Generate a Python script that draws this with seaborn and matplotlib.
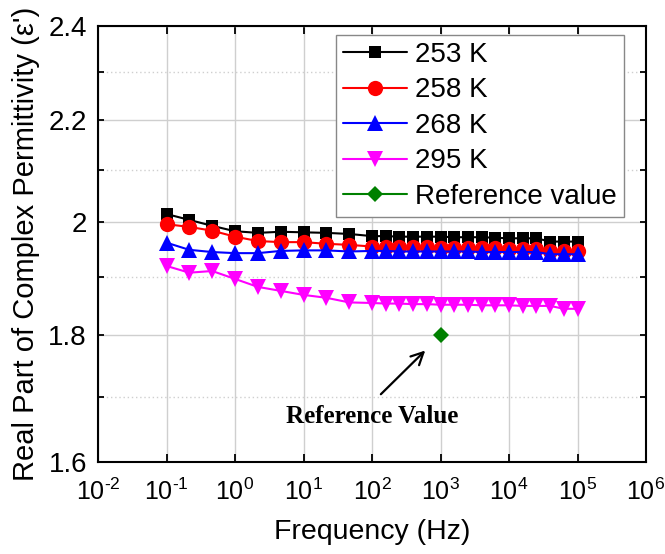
import numpy as np
import pandas as pd
import matplotlib
matplotlib.use("Agg")
import matplotlib.pyplot as plt
import matplotlib.ticker as mticker
import seaborn as sns

# ---------------- data ----------------
freq = [0.1, 0.215, 0.464, 1, 2.15, 4.64, 10, 21.5, 46.4,
        100, 158, 251, 398, 631, 1000, 1585, 2512, 3981, 6310,
        1e4, 1.585e4, 2.512e4, 3.981e4, 6.31e4, 1e5]
eps_253 = [2.015, 2.004, 1.993, 1.983, 1.980, 1.982, 1.981, 1.980, 1.978,
           1.974, 1.974, 1.973, 1.973, 1.973, 1.973, 1.972, 1.972, 1.972, 1.971,
           1.970, 1.970, 1.970, 1.964, 1.964, 1.964]
eps_258 = [1.996, 1.991, 1.984, 1.973, 1.965, 1.963, 1.963, 1.960, 1.958,
           1.955, 1.955, 1.954, 1.954, 1.954, 1.953, 1.953, 1.953, 1.952, 1.952,
           1.951, 1.951, 1.951, 1.946, 1.946, 1.946]
eps_268 = [1.962, 1.949, 1.945, 1.943, 1.943, 1.947, 1.948, 1.948, 1.946,
           1.947, 1.947, 1.946, 1.946, 1.946, 1.946, 1.946, 1.946, 1.945, 1.945,
           1.945, 1.945, 1.945, 1.941, 1.941, 1.941]
eps_295 = [1.920, 1.908, 1.911, 1.897, 1.883, 1.876, 1.869, 1.864, 1.856,
           1.855, 1.854, 1.854, 1.853, 1.853, 1.852, 1.852, 1.852, 1.851, 1.851,
           1.851, 1.850, 1.850, 1.850, 1.845, 1.845]
ref_freq = [1000]
ref_eps = [1.80]

series_labels = ["253 K", "258 K", "268 K", "295 K", "Reference value"]
y_major = [1.6, 1.8, 2.0, 2.2, 2.4]
y_major_labels = ["1.6", "1.8", "2", "2.2", "2.4"]
y_minor = [1.7, 1.9, 2.1, 2.3]
x_decades = [-2, -1, 0, 1, 2, 3, 4, 5, 6]

# ---------------- style ----------------
sns.set_style("ticks")
plt.rcParams["font.family"] = ["Liberation Sans", "DejaVu Sans"]
plt.rcParams["mathtext.fontset"] = "custom"
plt.rcParams["mathtext.rm"] = "Liberation Sans"
plt.rcParams["mathtext.it"] = "Liberation Sans:italic"
plt.rcParams["mathtext.bf"] = "Liberation Sans:bold"
for k in ["text.color", "axes.labelcolor", "xtick.color", "ytick.color"]:
    plt.rcParams[k] = "black"

fig = plt.figure(figsize=(6.65, 5.54), dpi=100)
ax = fig.add_axes([98 / 665, 1 - 462 / 554, 548 / 665, 436 / 554])

styles = [
    (freq, eps_253, "black", "s", 9),
    (freq, eps_258, "red", "o", 11),
    (freq, eps_268, "blue", "^", 11),
    (freq, eps_295, "magenta", "v", 11),
    (ref_freq, ref_eps, "green", "D", 8.5),
]
for (xs, ys, col, mk, ms), lab in zip(styles, series_labels):
    df = pd.DataFrame({"freq": xs, "eps": ys})
    sns.lineplot(data=df, x="freq", y="eps", ax=ax, color=col, marker=mk,
                 markersize=ms, markeredgewidth=0, linewidth=1.5, label=lab,
                 estimator=None, sort=False)

ax.set_xscale("log")
ax.set_yscale("log")
ax.set_xlim(10.0 ** x_decades[0], 10.0 ** x_decades[-1])
ax.set_ylim(y_major[0], y_major[-1])

ax.xaxis.set_major_locator(mticker.FixedLocator([10.0 ** d for d in x_decades]))
ax.xaxis.set_major_formatter(mticker.FixedFormatter(
    [r"$\mathdefault{10^{%s}}$" % (str(d).replace("-", r"\text{-}")) for d in x_decades]))
ax.xaxis.set_minor_locator(mticker.NullLocator())
ax.yaxis.set_major_locator(mticker.FixedLocator(y_major))
ax.yaxis.set_major_formatter(mticker.FixedFormatter(y_major_labels))
ax.yaxis.set_minor_locator(mticker.FixedLocator(y_minor))
ax.yaxis.set_minor_formatter(mticker.NullFormatter())

ax.grid(which="major", axis="both", color="#cfcfcf", linewidth=1.0, linestyle="-")
ax.grid(which="minor", axis="y", color="#cfcfcf", linewidth=1.0, linestyle=(0, (1, 2)))
ax.set_axisbelow(True)

for sp in ax.spines.values():
    sp.set_visible(True)
    sp.set_linewidth(1.5)
    sp.set_color("black")

ax.tick_params(axis="x", which="major", direction="in", length=6, width=1.3,
               top=True, bottom=True, labelsize=18, pad=12)
ax.tick_params(axis="y", which="both", direction="in", length=4, width=1.3,
               left=True, right=True, labelsize=20, pad=8)

ax.set_xlabel("Frequency (Hz)", fontsize=20.5, labelpad=10)
ax.set_ylabel("Real Part of Complex Permittivity (ε')", fontsize=21, labelpad=6)

leg = ax.legend(loc="upper right", bbox_to_anchor=((624 - 98) / 548, (462 - 35) / 436),
                borderaxespad=0, fontsize=20, frameon=True, fancybox=False,
                edgecolor="#888888", framealpha=1, handlelength=2.3,
                handletextpad=0.3, labelspacing=0.34, borderpad=0.25)
leg.get_frame().set_linewidth(1.0)

ax.annotate("", xy=(640, 1.778), xytext=(126, 1.701),
            arrowprops=dict(arrowstyle="->", lw=1.6, color="black", mutation_scale=22))
ax.text(100, 1.669, "Reference Value", ha="center", va="center",
        fontfamily="Liberation Serif", fontweight="bold", fontsize=18)

fig.savefig("out.png", dpi=100)
